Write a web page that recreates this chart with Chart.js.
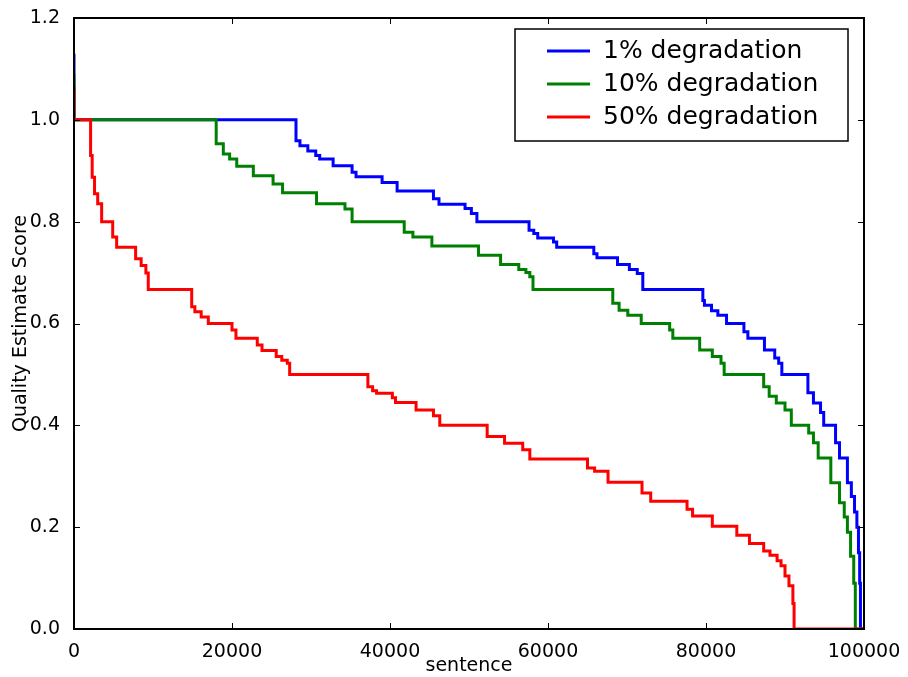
<!DOCTYPE html>
<html>
<head>
<meta charset="utf-8">
<script src="https://cdn.jsdelivr.net/npm/chart.js@4"></script>
<style>
  html, body { margin: 0; padding: 0; background: #fff; }
  canvas { display: block; }
</style>
</head>
<body>
<canvas id="mychart" width="908" height="677"></canvas>
<script>
// series names
var seriesNames = ["1% degradation", "10% degradation", "50% degradation"];

// x ticks and y ticks
var xTicks = [0, 20000, 40000, 60000, 80000, 100000];
var yTicks = [0.0, 0.2, 0.4, 0.6, 0.8, 1.0, 1.2];

// 1% degradation: sentence index where the score changes, and the new score
var blueX = [0, 0, 28100, 28600, 29600, 30600, 31100, 32800, 35200, 35700, 39000, 40900,
  45500, 46200, 49500, 50300, 51000, 57600, 58200, 58700, 60700, 61100, 65800, 66200,
  68800, 70300, 71300, 72000, 79600, 79800, 80700, 81500, 82600, 84800, 85300, 87400,
  88700, 89200, 89600, 92900, 93600, 94500, 94900, 96400, 96900, 97900, 98400, 98800,
  99100, 99300, 99450, 99550, 100000];
var blueY = [1.13, 1.0, 0.959, 0.949, 0.939, 0.93, 0.923, 0.91, 0.897, 0.888, 0.877, 0.86,
  0.845, 0.834, 0.826, 0.816, 0.8, 0.783, 0.777, 0.768, 0.76, 0.75, 0.737, 0.729,
  0.716, 0.706, 0.698, 0.667, 0.645, 0.636, 0.625, 0.616, 0.6, 0.584, 0.571, 0.548,
  0.532, 0.522, 0.5, 0.464, 0.444, 0.425, 0.4, 0.366, 0.336, 0.287, 0.26, 0.23,
  0.2, 0.15, 0.09, 0.0, 0.0];

// 10% degradation
var greenX = [0, 0, 18000, 18900, 19700, 20600, 22700, 25200, 26400, 30700, 34300, 35200,
  41800, 42900, 45300, 51200, 54000, 56300, 57200, 57700, 58100, 68200, 69000, 70100,
  71800, 75400, 75800, 79200, 80800, 81900, 82300, 87300, 88000, 88900, 90000, 90800,
  93000, 93600, 94200, 95800, 96900, 97500, 97900, 98300, 98700, 98900, 100000];
var greenY = [1.09, 1.0, 0.953, 0.933, 0.923, 0.909, 0.89, 0.874, 0.857, 0.835, 0.825, 0.8,
  0.779, 0.77, 0.752, 0.734, 0.716, 0.706, 0.7, 0.692, 0.667, 0.64, 0.626, 0.616,
  0.6, 0.587, 0.571, 0.548, 0.535, 0.522, 0.5, 0.476, 0.457, 0.444, 0.43, 0.4,
  0.385, 0.366, 0.336, 0.287, 0.248, 0.22, 0.19, 0.143, 0.09, 0.0, 0.0];

// 50% degradation
var redX = [0, 0, 2100, 2300, 2600, 3000, 3500, 4900, 5400, 7800, 8500, 9100, 9400,
  14900, 15300, 16100, 17000, 20000, 20500, 23200, 23800, 25600, 26300, 27000, 27300,
  37200, 37800, 38300, 40300, 40700, 43300, 45500, 46300, 52300, 54500, 56800, 57700,
  65000, 65900, 67600, 71900, 73000, 77600, 78300, 80800, 83900, 85500, 87300, 88100,
  89000, 89500, 90000, 90500, 91000, 91150, 100000];
var redY = [1.065, 1.0, 0.93, 0.887, 0.855, 0.835, 0.8, 0.77, 0.75, 0.727, 0.714, 0.699, 0.667,
  0.633, 0.623, 0.613, 0.6, 0.587, 0.571, 0.558, 0.547, 0.535, 0.528, 0.522, 0.5,
  0.476, 0.468, 0.463, 0.454, 0.445, 0.43, 0.419, 0.4, 0.378, 0.365, 0.352, 0.334,
  0.316, 0.31, 0.288, 0.267, 0.251, 0.235, 0.222, 0.202, 0.184, 0.168, 0.153, 0.145,
  0.134, 0.124, 0.104, 0.085, 0.05, 0.0, 0.0];

var colors = ["#0000ff", "#008000", "#ff0000"];

function toPoints(xs, ys) {
	var pts = [];
	for (var i = 0; i < xs.length; i++) {
		pts.push({x: xs[i], y: ys[i]});
	}
	return pts;
}

var allX = [blueX, greenX, redX];
var allY = [blueY, greenY, redY];
var datasets = [];
for (var i = 0; i < seriesNames.length; i++) {
	datasets.push({
		label: seriesNames[i],
		data: toPoints(allX[i], allY[i]),
		borderColor: colors[i],
		backgroundColor: colors[i],
		borderWidth: 3,
		pointRadius: 0,
		stepped: true,
		fill: false,
		clip: 0,
		order: seriesNames.length - i // red drawn on top, like matplotlib
	});
}

var FONT = "'DejaVu Sans', sans-serif";

// frame + inward ticks on all four sides
var framePlugin = {
	id: "frame",
	afterDatasetsDraw: function(chart) {
		var ctx = chart.ctx;
		var a = chart.chartArea;
		var xs = chart.scales.x, ys = chart.scales.y;
		ctx.save();
		ctx.strokeStyle = "#000";
		ctx.lineWidth = 1;
		xTicks.forEach(function(v) {
			var px = Math.round(xs.getPixelForValue(v)) + 0.5;
			ctx.beginPath();
			ctx.moveTo(px, a.bottom); ctx.lineTo(px, a.bottom - 6);
			ctx.moveTo(px, a.top); ctx.lineTo(px, a.top + 6);
			ctx.stroke();
		});
		yTicks.forEach(function(v) {
			var py = Math.round(ys.getPixelForValue(v)) + 0.5;
			ctx.beginPath();
			ctx.moveTo(a.left, py); ctx.lineTo(a.left + 6, py);
			ctx.moveTo(a.right, py); ctx.lineTo(a.right - 6, py);
			ctx.stroke();
		});
		ctx.lineWidth = 2;
		ctx.strokeRect(a.left, a.top, a.right - a.left, a.bottom - a.top);
		ctx.restore();
	}
};

// legend box in upper right corner of the plot
var legendPlugin = {
	id: "boxLegend",
	afterDraw: function(chart) {
		var ctx = chart.ctx;
		var a = chart.chartArea;
		var boxRight = a.right - 16, boxTop = a.top + 11;
		var boxW = 333, boxH = 112;
		var boxLeft = boxRight - boxW;
		ctx.save();
		ctx.fillStyle = "#fff";
		ctx.fillRect(boxLeft, boxTop, boxW, boxH);
		ctx.strokeStyle = "#000";
		ctx.lineWidth = 1.5;
		ctx.strokeRect(boxLeft, boxTop, boxW, boxH);
		ctx.font = "25px " + FONT;
		ctx.textBaseline = "middle";
		ctx.textAlign = "left";
		for (var i = 0; i < seriesNames.length; i++) {
			var rowY = boxTop + 22 + i * 33;
			ctx.strokeStyle = colors[i];
			ctx.lineWidth = 3;
			ctx.beginPath();
			ctx.moveTo(boxLeft + 32, rowY);
			ctx.lineTo(boxLeft + 75, rowY);
			ctx.stroke();
			ctx.fillStyle = "#000";
			ctx.fillText(seriesNames[i], boxLeft + 88, rowY);
		}
		ctx.restore();
	}
};

var ctx = document.getElementById("mychart");
var myChart = new Chart(ctx, {
	type: "line",
	data: { datasets: datasets },
	options: {
		responsive: false,
		animation: false,
		layout: { padding: { top: 18, right: 44, left: 0, bottom: 0 } },
		plugins: {
			legend: { display: false },
			tooltip: { enabled: false }
		},
		scales: {
			x: {
				type: "linear",
				min: 0,
				max: 100000,
				afterBuildTicks: function(scale) {
					scale.ticks = xTicks.map(function(v) { return {value: v}; });
				},
				afterFit: function(scale) { scale.height = 48; },
				grid: { display: false },
				border: { display: false },
				ticks: {
					padding: 4,
					maxRotation: 0,
					color: "#000",
					font: { family: FONT, size: 19 },
					callback: function(v) { return String(v); }
				},
				title: {
					display: true,
					text: "sentence",
					color: "#000",
					font: { family: FONT, size: 19 },
					padding: { top: 0, bottom: 0 }
				}
			},
			y: {
				min: 0,
				max: 1.2,
				afterBuildTicks: function(scale) {
					scale.ticks = yTicks.map(function(v) { return {value: v}; });
				},
				afterFit: function(scale) { scale.width = 74; },
				grid: { display: false },
				border: { display: false },
				ticks: {
					padding: 6,
					color: "#000",
					font: { family: FONT, size: 19 },
					callback: function(v) { return v.toFixed(1); }
				},
				title: {
					display: true,
					text: "Quality Estimate Score",
					color: "#000",
					font: { family: FONT, size: 19 },
					padding: { top: 10, bottom: 0 }
				}
			}
		}
	},
	plugins: [framePlugin, legendPlugin]
});
</script>
</body>
</html>
